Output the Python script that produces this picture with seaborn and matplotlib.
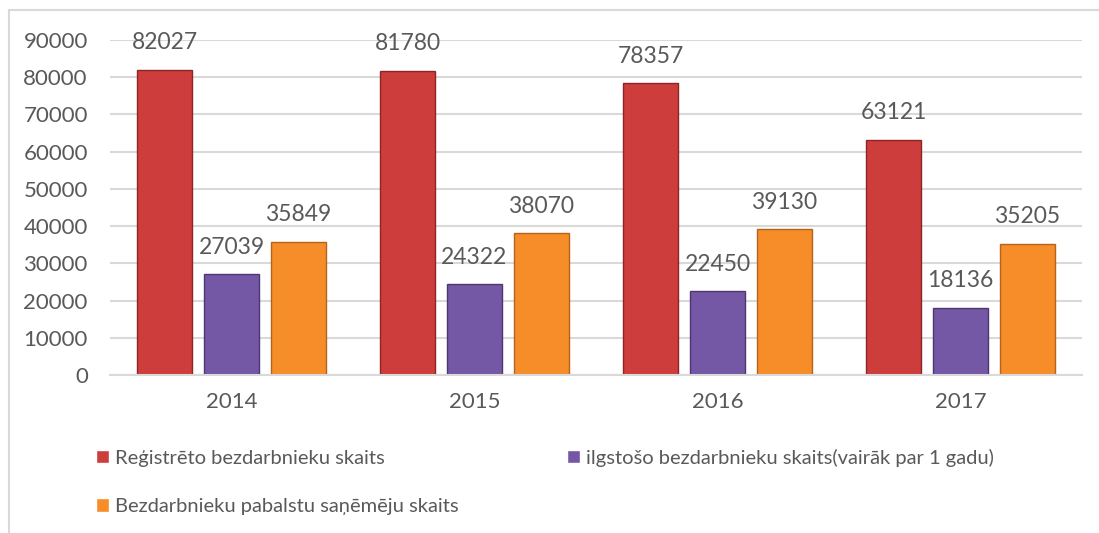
#!/usr/bin/env python3
"""Unemployment figures by year, grouped bar chart."""

import matplotlib
matplotlib.use("Agg")
import matplotlib.pyplot as plt
from matplotlib.lines import Line2D
import pandas as pd
import seaborn as sns

years = ["2014", "2015", "2016", "2017"]
series_names = [
    "Reģistrēto bezdarbnieku skaits",
    "ilgstošo bezdarbnieku skaits(vairāk par 1 gadu)",
    "Bezdarbnieku pabalstu saņēmēju skaits",
]
registered = [82027, 81780, 78357, 63121]
long_term = [27039, 24322, 22450, 18136]
benefit = [35849, 38070, 39130, 35205]

colors = ["#CC3D3C", "#7457A5", "#F68D28"]
edges = ["#8E2524", "#4E3770", "#B5621A"]
text_color = "#595959"
grid_color = "#D9D9D9"

df = pd.DataFrame({
    "year": years * 3,
    "series": [s for s in series_names for _ in years],
    "value": registered + long_term + benefit,
})

sns.set_theme(style="white")
plt.rcParams["font.family"] = ["Lato", "DejaVu Sans"]

fig = plt.figure(figsize=(10.99, 5.33), dpi=100)
ax = fig.add_axes([0.1001, 0.2964, 0.8844, 0.6286])

sns.barplot(data=df, x="year", y="value", hue="series", hue_order=series_names,
            palette=colors, saturation=1, width=0.827, gap=0.19, ax=ax, legend=True)

for cont, ec in zip(ax.containers, edges):
    for bar in cont:
        bar.set_edgecolor(ec)
        bar.set_linewidth(1.0)
    ax.bar_label(cont, labels=[f"{int(v)}" for v in cont.datavalues],
                 padding=12, fontsize=16.5, color=text_color)

ax.set_ylim(0, 90000)
ax.set_xlim(-0.5, 3.5)
ax.set_yticks(range(0, 90001, 10000))
ax.yaxis.grid(True, color=grid_color, linewidth=1.5)
ax.set_axisbelow(True)
ax.set_xlabel("")
ax.set_ylabel("")
for side in ["top", "right", "left"]:
    ax.spines[side].set_visible(False)
ax.spines["bottom"].set_color(grid_color)
ax.spines["bottom"].set_linewidth(1.5)
ax.tick_params(axis="y", length=0, pad=16, labelsize=16, labelcolor=text_color)
ax.tick_params(axis="x", length=0, pad=12, labelsize=16, labelcolor=text_color)

handles, labels = ax.get_legend_handles_labels()
ax.get_legend().remove()
order = [0, 2, 1]
fig.legend([handles[i] for i in order], [labels[i] for i in order],
           ncol=2, loc="upper left", bbox_to_anchor=(0.078, 0.177),
           frameon=False, fontsize=14.5, labelcolor=text_color,
           handlelength=0.65, handleheight=0.65, handletextpad=0.3,
           columnspacing=5.4, labelspacing=1.55, borderpad=0)

# outer chart border (only top and left visible in the crop)
fig.add_artist(Line2D([9 / 1099, 9 / 1099], [0, 1 - 10 / 533],
                      transform=fig.transFigure, color=grid_color, linewidth=1.5))
fig.add_artist(Line2D([9 / 1099, 1], [1 - 10 / 533, 1 - 10 / 533],
                      transform=fig.transFigure, color=grid_color, linewidth=1.5))

fig.savefig("out.png", dpi=100)
